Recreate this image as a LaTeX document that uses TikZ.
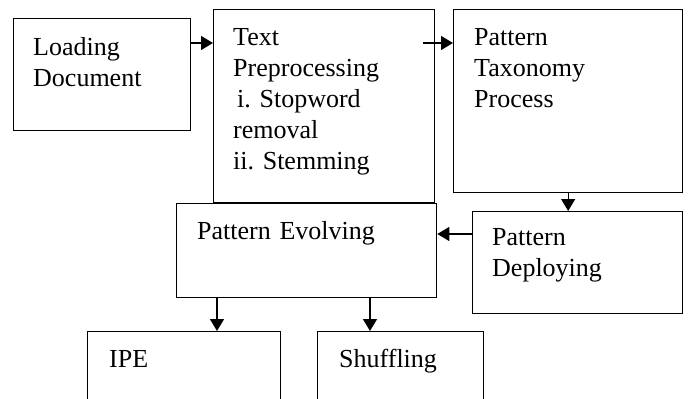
\documentclass[tikz,border=0pt]{standalone}
\usepackage{fontspec}
\setmainfont{Liberation Serif}
\usetikzlibrary{arrows.meta,calc}
\begin{document}
\begin{tikzpicture}[x=1pt,y=-1pt,
  box/.style={draw,line width=1.3pt,rectangle,inner sep=0pt,anchor=north west},
  txt/.style={anchor=north west,inner sep=0pt,align=left,text width=220pt,
    font=\fontsize{26}{31}\selectfont\frenchspacing,execute at begin node=\strut,yshift=21.7pt},
  arr/.style={line width=1.3pt,-{Triangle[length=12pt,width=14pt]}}]
\useasboundingbox (0,0) rectangle (689,399);
\clip (0,0) rectangle (689,399);
% process boxes
\node[box,minimum width=177pt,minimum height=112pt] (b1) at (13,18) {};
\node[box,minimum width=221pt,minimum height=193pt] (b2) at (213,9) {};
\node[box,minimum width=229pt,minimum height=183pt] (b3) at (453,9) {};
\node[box,minimum width=210pt,minimum height=102pt] (b4) at (472,211) {};
\node[box,minimum width=260pt,minimum height=94pt,fill=white] (b5) at (176,203) {};
\node[box,minimum width=193pt,minimum height=120pt] (b6) at (87,331) {};
\node[box,minimum width=166pt,minimum height=120pt] (b7) at (317,331) {};
% labels
\node[txt] (t1) at (33,55) {Loading\\Document};
\node[txt] (t2) at (233,45) {Text\\Preprocessing\\\hspace*{4pt}i. Stopword\\removal\\ii. Stemming};
\node[txt] (t3) at (474,45) {Pattern\\Taxonomy\\Process};
\node[txt] (t5) at (197,239) {Pattern Evolving};
\node[txt] (t4) at (492,245) {Pattern\\Deploying};
\node[txt] (t6) at (109,367) {IPE};
\node[txt] (t7) at (339,367) {Shuffling};
% connectors
\coordinate (r1) at (0,43);
\coordinate (r2) at (0,234);
\coordinate (c1) at (217,0);
\coordinate (c2) at (370,0);
\draw[arr] (b1.east |- r1) -- (b2.west |- r1);
\draw[arr] ($(b2.east |- r1)+(-12,0)$) -- (b3.west |- r1);
\draw[arr] (b3.south) -- (b3.south |- b4.north);
\draw[arr] (b4.west |- r2) -- (b5.east |- r2);
\draw[arr] (b5.south -| c1) -- (b6.north -| c1);
\draw[arr] (b5.south -| c2) -- (b7.north -| c2);
\end{tikzpicture}
\end{document}
